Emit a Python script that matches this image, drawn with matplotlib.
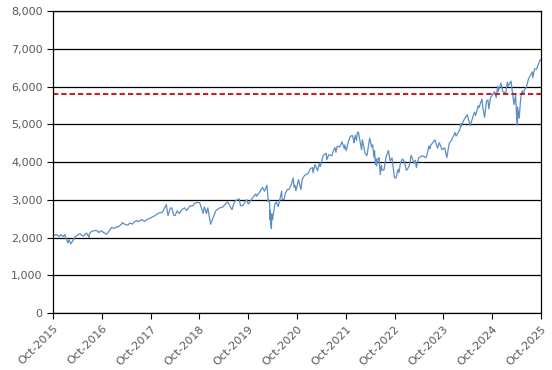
import matplotlib
matplotlib.use("Agg")
import matplotlib.pyplot as plt
import matplotlib.dates as mdates
import pandas as pd

# ── Data (approx. index level) ───────────────────────────────────
dates = [
    "2015-10-01", "2015-10-30", "2015-11-13", "2015-11-30", "2015-12-14", "2015-12-29", "2015-12-31",
    "2016-01-20", "2016-01-29", "2016-02-11", "2016-02-29", "2016-03-15", "2016-03-31",
    "2016-04-20", "2016-04-29", "2016-05-19", "2016-05-31", "2016-06-08", "2016-06-27", "2016-06-30",
    "2016-07-15", "2016-07-29", "2016-08-15", "2016-08-31", "2016-09-09", "2016-09-22", "2016-09-30",
    "2016-10-14", "2016-11-04", "2016-11-30", "2016-12-13", "2016-12-30",
    "2017-01-26", "2017-01-31", "2017-02-28", "2017-03-01", "2017-03-27", "2017-04-13", "2017-04-28",
    "2017-05-17", "2017-05-31", "2017-06-19", "2017-06-29", "2017-07-26", "2017-08-10", "2017-08-18",
    "2017-08-31", "2017-09-29", "2017-10-31", "2017-11-30", "2017-12-29",
    "2018-01-26", "2018-02-08", "2018-02-26", "2018-03-09", "2018-03-23", "2018-04-02", "2018-04-18",
    "2018-05-03", "2018-05-21", "2018-06-12", "2018-06-28", "2018-07-25", "2018-08-10", "2018-08-29",
    "2018-09-20", "2018-10-03", "2018-10-29", "2018-11-07", "2018-11-23", "2018-12-03", "2018-12-24",
    "2019-01-31", "2019-02-28", "2019-03-22", "2019-04-30", "2019-05-31", "2019-06-03", "2019-06-20",
    "2019-07-26", "2019-08-05", "2019-08-14", "2019-08-23", "2019-09-19", "2019-10-02", "2019-10-31",
    "2019-11-27", "2019-12-03", "2019-12-31",
    "2020-01-17", "2020-01-31", "2020-02-19", "2020-02-28", "2020-03-03", "2020-03-10", "2020-03-12",
    "2020-03-13", "2020-03-16", "2020-03-23", "2020-03-26", "2020-04-01", "2020-04-17", "2020-04-29",
    "2020-05-13", "2020-05-27", "2020-06-08", "2020-06-11", "2020-06-26", "2020-07-06", "2020-07-22",
    "2020-07-31", "2020-08-18", "2020-09-02", "2020-09-08", "2020-09-16", "2020-09-23", "2020-10-12",
    "2020-10-30", "2020-11-09", "2020-11-24", "2020-12-09", "2020-12-21", "2020-12-31",
    "2021-01-08", "2021-01-25", "2021-01-29", "2021-02-12", "2021-03-04", "2021-03-17", "2021-03-24",
    "2021-03-31", "2021-04-16", "2021-04-29", "2021-05-07", "2021-05-12", "2021-05-26", "2021-06-18",
    "2021-06-30", "2021-07-12", "2021-07-19", "2021-07-29", "2021-08-18", "2021-08-31", "2021-09-02",
    "2021-09-20", "2021-09-24", "2021-10-04", "2021-10-21", "2021-11-04", "2021-11-18", "2021-11-30",
    "2021-12-01", "2021-12-10", "2021-12-20", "2021-12-27",
    "2022-01-03", "2022-01-27", "2022-02-02", "2022-02-23", "2022-03-08", "2022-03-29", "2022-04-12",
    "2022-04-20", "2022-04-29", "2022-05-04", "2022-05-11", "2022-05-17", "2022-05-20", "2022-06-01",
    "2022-06-08", "2022-06-16", "2022-06-24", "2022-06-30", "2022-07-14", "2022-07-29", "2022-08-16",
    "2022-08-29", "2022-09-12", "2022-09-30", "2022-10-12", "2022-10-27", "2022-11-03", "2022-11-15",
    "2022-11-30", "2022-12-13", "2022-12-28",
    "2023-01-05", "2023-01-19", "2023-02-02", "2023-02-24", "2023-03-06", "2023-03-13", "2023-03-31",
    "2023-04-28", "2023-05-24", "2023-05-31", "2023-06-15", "2023-06-23", "2023-06-30", "2023-07-31",
    "2023-08-18", "2023-09-01", "2023-09-21", "2023-10-11", "2023-10-27", "2023-11-14", "2023-11-30",
    "2023-12-28",
    "2024-01-04", "2024-01-31", "2024-02-12", "2024-02-13", "2024-02-29", "2024-03-28", "2024-04-19",
    "2024-05-21", "2024-05-30", "2024-06-18", "2024-06-24", "2024-07-16", "2024-07-24", "2024-08-05",
    "2024-08-19", "2024-08-30", "2024-09-06", "2024-09-19", "2024-09-30", "2024-10-18", "2024-10-31",
    "2024-11-11", "2024-11-15", "2024-12-06", "2024-12-19",
    "2025-01-10", "2025-01-23", "2025-01-27", "2025-02-19", "2025-03-13", "2025-03-25", "2025-04-04",
    "2025-04-08", "2025-04-09", "2025-04-21", "2025-05-02", "2025-05-13", "2025-05-23", "2025-05-30",
    "2025-06-13", "2025-06-30", "2025-07-28", "2025-08-01", "2025-08-14", "2025-08-29", "2025-09-22",
    "2025-09-30", "2025-10-01",
]
values = [
    2060, 2079, 2023, 2080, 2021, 2078, 2044,
    1859, 1940, 1829, 1932, 2015, 2060,
    2102, 2065, 2040, 2097, 2119, 2001, 2099,
    2162, 2174, 2190, 2171, 2128, 2177, 2168,
    2133, 2085, 2199, 2271, 2239,
    2297, 2279, 2364, 2396, 2342, 2329, 2384,
    2357, 2412, 2453, 2419, 2477, 2438, 2425,
    2472, 2519, 2575, 2648, 2674,
    2873, 2581, 2780, 2786, 2588, 2582, 2708,
    2630, 2733, 2787, 2716, 2846, 2833, 2914,
    2931, 2926, 2641, 2814, 2633, 2790, 2351,
    2704, 2784, 2801, 2946, 2752, 2744, 2954,
    3026, 2845, 2840, 2847, 3006, 2887, 3038,
    3154, 3093, 3231,
    3330, 3226, 3386, 2954, 3003, 2882, 2481,
    2711, 2386, 2237, 2630, 2470, 2875, 2940,
    2820, 3036, 3232, 3002, 3009, 3179, 3276,
    3271, 3390, 3580, 3332, 3385, 3237, 3534,
    3270, 3550, 3635, 3672, 3694, 3756,
    3824, 3855, 3714, 3934, 3768, 3974, 3881,
    3973, 4185, 4211, 4232, 4063, 4195, 4166,
    4298, 4384, 4258, 4419, 4400, 4523, 4537,
    4358, 4455, 4300, 4549, 4680, 4704, 4567,
    4513, 4712, 4568, 4791,
    4796, 4326, 4589, 4225, 4171, 4632, 4397,
    4459, 4132, 4300, 3935, 4088, 3901, 4101,
    4116, 3667, 3912, 3785, 3790, 4130, 4305,
    4031, 4110, 3586, 3577, 3807, 3720, 3992,
    4080, 4019, 3783,
    3808, 3899, 4179, 3970, 4048, 3855, 4109,
    4169, 4115, 4180, 4426, 4348, 4450, 4589,
    4370, 4516, 4330, 4377, 4117, 4496, 4568,
    4783,
    4688, 4846, 5022, 4953, 5096, 5254, 4967,
    5321, 5236, 5487, 5448, 5667, 5427, 5186,
    5608, 5648, 5408, 5713, 5762, 5864, 5705,
    6001, 5870, 6090, 5867,
    5827, 6119, 6012, 6144, 5522, 5777, 5074,
    4983, 5457, 5158, 5687, 5886, 5802, 5912,
    5977, 6205, 6390, 6238, 6469, 6460, 6694,
    6688, 6711,
]
ref_level = 5800
tick_years = list(range(2015, 2026))

x = pd.to_datetime(dates)

fig, ax = plt.subplots(figsize=(5.52, 3.70), dpi=100)
fig.subplots_adjust(left=0.096, right=0.980, bottom=0.154, top=0.970)

ax.plot(x, values, color="#5B8FC4", linewidth=0.9)
ax.axhline(ref_level, color="#C0202A", linestyle=(0, (2.5, 1.5)), linewidth=1.5)

ax.set_ylim(0, 8000)
ax.set_yticks(range(0, 8001, 1000))
ax.yaxis.set_major_formatter(matplotlib.ticker.FuncFormatter(lambda v, p: f"{int(v):,}"))
ax.grid(axis="y", color="black", linewidth=0.9)
ax.set_axisbelow(True)

ax.set_xlim(pd.Timestamp("2015-10-01"), pd.Timestamp("2025-10-01"))
ax.set_xticks([pd.Timestamp(f"{y}-10-01") for y in tick_years])
ax.xaxis.set_major_formatter(mdates.DateFormatter("%b-%Y"))

for s in ax.spines.values():
    s.set_color("black")
    s.set_linewidth(0.9)

ax.tick_params(axis="both", direction="out", length=4, color="black",
               labelcolor="#595959", labelsize=8)
plt.setp(ax.get_xticklabels(), rotation=45, ha="right", rotation_mode="anchor")

plt.savefig("out.png", dpi=100)
plt.close()
